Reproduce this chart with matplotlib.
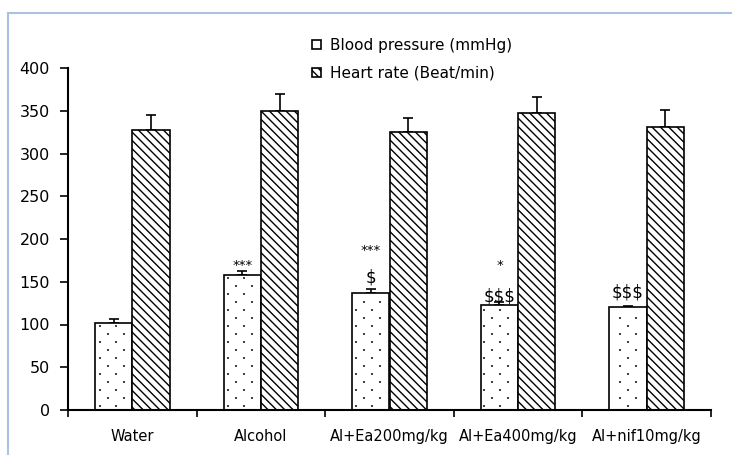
import matplotlib
matplotlib.use('Agg')
import matplotlib.pyplot as plt
from matplotlib.lines import Line2D
import numpy as np

groups = ['Water', 'Alcohol', 'Al+Ea200mg/kg', 'Al+Ea400mg/kg', 'Al+nif10mg/kg']
bp = [102, 158, 137, 123, 120]
bp_err = [4, 4, 4, 3, 2]
hr = [327, 350, 325, 347, 331]
hr_err = [18, 20, 16, 19, 20]

# significance marks: (group index, text, y value, size)
marks = [
    (1, '***', 169, 9.5),
    (2, '***', 187, 9.5),
    (2, '$', 155, 12),
    (3, '*', 169, 9.5),
    (3, '$$$', 133, 12),
    (4, '$$$', 137, 12),
]

W, H = 732, 455
AX_L, AX_R, AX_T, AX_B = 68, 711, 68, 410
plt.rcParams['font.family'] = ['DejaVu Sans']
plt.rcParams['hatch.linewidth'] = 1.0

fig = plt.figure(figsize=(W / 100, H / 100), dpi=100)
ax = fig.add_axes([AX_L / W, 1 - AX_B / H, (AX_R - AX_L) / W, (AX_B - AX_T) / H])

x = np.arange(len(groups)) + 0.5
bw = 0.29
ax.bar(x - bw / 2, bp, bw, color='white', edgecolor='black', linewidth=1.2,
       label='Blood pressure (mmHg)', zorder=2)
ax.bar(x + bw / 2, hr, bw, color='white', edgecolor='black', linewidth=1.2,
       hatch='\\\\\\\\', label='Heart rate (Beat/min)', zorder=2)
ax.errorbar(x - bw / 2, bp, yerr=[np.zeros(len(bp)), bp_err], fmt='none',
            ecolor='black', elinewidth=1.2, capsize=3.6, capthick=1.2, zorder=1)
ax.errorbar(x + bw / 2, hr, yerr=[np.zeros(len(hr)), hr_err], fmt='none',
            ecolor='black', elinewidth=1.2, capsize=3.6, capthick=1.2, zorder=1)

# sparse staggered dot fill for the blood pressure bars
ux = len(groups) / (AX_R - AX_L)   # data units per pixel
uy = 400 / (AX_B - AX_T)
for i in range(len(groups)):
    x0, x1 = x[i] - bw, x[i]
    dx, dy = [], []
    for k, py in enumerate(np.arange(4, 400 / uy, 8)):
        yv = py * uy
        if yv > bp[i] - 3 * uy:
            break
        for px in np.arange(8 * (k % 2), (AX_R - AX_L), 16):
            xv = px * ux
            if x0 + 3 * ux < xv < x1 - 3 * ux:
                dx.append(xv)
                dy.append(yv)
    ax.scatter(dx, dy, s=1.6, color='#444444', marker='s', linewidths=0, zorder=3)

for i, t, yv, s in marks:
    ax.text(x[i] - bw / 2, yv, t, ha='center', va='center', fontsize=s)

ax.set_xlim(0, len(groups))
ax.set_ylim(0, 400)
ax.set_yticks(range(0, 401, 50))
ax.set_xticks(range(len(groups) + 1))
ax.set_xticklabels([])
ax.set_xticks(x, minor=True)
ax.set_xticklabels(groups, minor=True)
ax.tick_params(axis='x', which='minor', length=0, pad=14, labelsize=10.5)
ax.tick_params(axis='x', which='major', length=5, width=1.2, direction='out')
ax.tick_params(axis='y', length=6, width=1.2, labelsize=11.5, pad=7)
for s in ['top', 'right']:
    ax.spines[s].set_visible(False)
for s in ['left', 'bottom']:
    ax.spines[s].set_linewidth(1.5)

ax.legend(loc='upper left', bbox_to_anchor=(312 / W, 1 - 38 / H),
          bbox_transform=fig.transFigure, frameon=False, fontsize=11,
          handlelength=0.6, handleheight=0.6, handletextpad=0.55,
          labelspacing=0.85, borderpad=0, borderaxespad=0)

# light blue frame at top and left
fig.add_artist(Line2D([8 / W, 8 / W], [0, 1 - 13 / H], color='#a9c1e3', lw=1.5))
fig.add_artist(Line2D([8 / W, 1], [1 - 13 / H, 1 - 13 / H], color='#a9c1e3', lw=1.5))

fig.savefig('out.png', dpi=100)
